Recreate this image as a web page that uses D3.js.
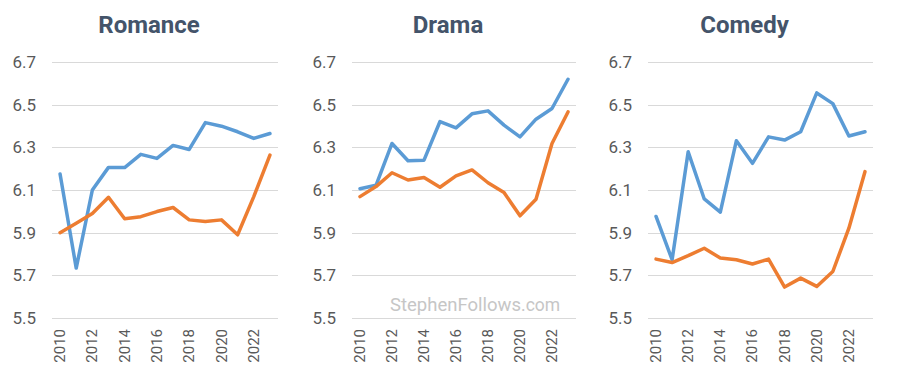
<!DOCTYPE html>
<html>
<head>
<meta charset="utf-8">
<script src="https://cdn.jsdelivr.net/npm/d3@7"></script>
<style>
  body { margin: 0; background: #fff; }
  svg { display: block; font-family: Roboto, "Noto Sans", sans-serif; }
</style>
</head>
<body>
<div id="chart"></div>
<script>
// Years on the category axis
const years = d3.range(2010, 2024);
const yTicks = [5.5, 5.7, 5.9, 6.1, 6.3, 6.5, 6.7];
const genres = ["Romance", "Drama", "Comedy"];

// Values (blue and orange series per genre)
const romanceBlue   = [6.175, 5.734, 6.10, 6.206, 6.205, 6.267, 6.248, 6.309, 6.290, 6.416, 6.399, 6.373, 6.342, 6.365];
const romanceOrange = [5.90, 5.944, 5.99, 6.066, 5.965, 5.975, 5.999, 6.018, 5.96, 5.952, 5.96, 5.89, 6.069, 6.264];
const dramaBlue     = [6.106, 6.122, 6.318, 6.237, 6.240, 6.421, 6.391, 6.457, 6.471, 6.404, 6.349, 6.432, 6.482, 6.619];
const dramaOrange   = [6.069, 6.116, 6.181, 6.147, 6.159, 6.113, 6.166, 6.194, 6.134, 6.088, 5.979, 6.057, 6.318, 6.466];
const comedyBlue    = [5.976, 5.773, 6.279, 6.058, 5.996, 6.331, 6.225, 6.349, 6.334, 6.373, 6.555, 6.505, 6.353, 6.373];
const comedyOrange  = [5.776, 5.760, 5.792, 5.827, 5.781, 5.773, 5.753, 5.776, 5.645, 5.687, 5.648, 5.718, 5.921, 6.186];

const seriesByGenre = [
  [romanceBlue, romanceOrange],
  [dramaBlue, dramaOrange],
  [comedyBlue, comedyOrange]
];
const colors = ["#5B9BD5", "#ED7D31"];

const width = 900, height = 385;
// plot extents for each small multiple
const panels = [
  { left: 52, right: 278 },
  { left: 352, right: 576 },
  { left: 648, right: 873 }
];
const plotTop = 62, plotBottom = 318;

const svg = d3.select("#chart").append("svg")
  .attr("width", width)
  .attr("height", height);

const y = d3.scaleLinear().domain([5.5, 6.7]).range([plotBottom, plotTop]);

panels.forEach((p, i) => {
  const g = svg.append("g");
  const x = d3.scalePoint().domain(years).range([p.left, p.right]).padding(0.5);

  // title
  g.append("text")
    .attr("x", (p.left + p.right) / 2 - 16)
    .attr("y", 33)
    .attr("text-anchor", "middle")
    .attr("font-size", 24)
    .attr("font-weight", "bold")
    .attr("fill", "#44546A")
    .text(genres[i]);

  // gridlines
  g.selectAll(".grid")
    .data(yTicks)
    .join("line")
    .attr("x1", p.left)
    .attr("x2", p.right)
    .attr("y1", d => Math.round(y(d)) + 0.5)
    .attr("y2", d => Math.round(y(d)) + 0.5)
    .attr("stroke", "#D9D9D9")
    .attr("stroke-width", 1);

  // y labels
  g.selectAll(".ylab")
    .data(yTicks)
    .join("text")
    .attr("x", p.left - 16)
    .attr("y", d => y(d) + 6)
    .attr("text-anchor", "end")
    .attr("font-size", 17)
    .attr("fill", "#595959")
    .text(d => d.toFixed(1));

  // x labels every second year, rotated
  g.selectAll(".xlab")
    .data(years.filter(d => d % 2 === 0))
    .join("text")
    .attr("transform", d => `translate(${x(d) + 5},${plotBottom + 11}) rotate(-90)`)
    .attr("text-anchor", "end")
    .attr("font-size", 15)
    .attr("fill", "#595959")
    .text(d => d);

  const line = d3.line()
    .x((d, j) => x(years[j]))
    .y(d => y(d));

  seriesByGenre[i].forEach((vals, k) => {
    g.append("path")
      .datum(vals)
      .attr("d", line)
      .attr("fill", "none")
      .attr("stroke", colors[k])
      .attr("stroke-width", 3.5)
      .attr("stroke-linejoin", "round")
      .attr("stroke-linecap", "round");
  });
});

// watermark
const wm = svg.append("text")
  .attr("x", 390)
  .attr("y", 311)
  .attr("fill", "#C6C6C6")
  .attr("font-size", 18.5);
wm.append("tspan").text("StephenFollows");
wm.append("tspan").attr("font-size", 17.5).text(".com");
</script>
</body>
</html>
